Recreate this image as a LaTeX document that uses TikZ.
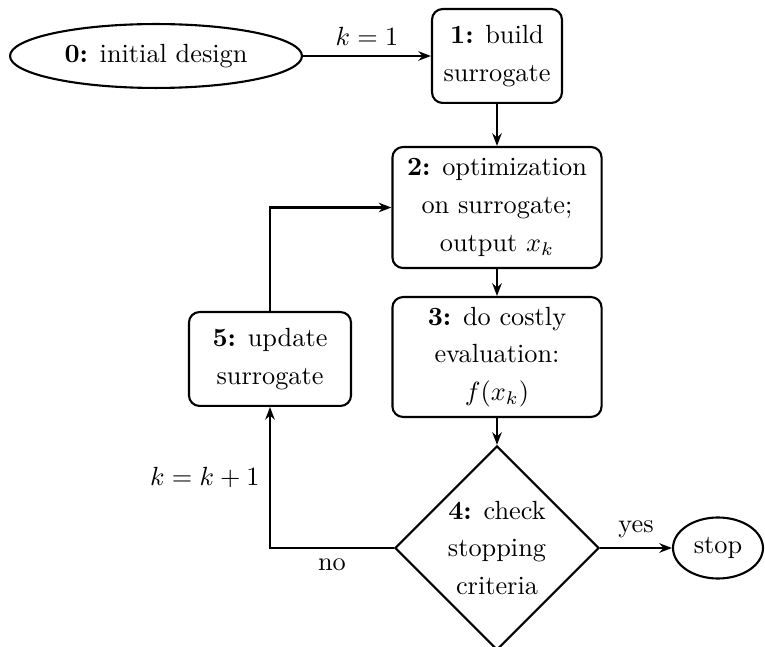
\documentclass[tikz,border=0pt]{standalone}
\usetikzlibrary{shapes.geometric,arrows.meta}
\begin{document}
\begin{tikzpicture}[x=0.3802pt,y=-0.3802pt,
  every node/.style={font=\fontsize{10}{14.3}\selectfont},
  stepbox/.style={draw,thick,rounded corners=4pt,align=center,inner sep=1pt},
  termin/.style={draw,thick,ellipse,inner sep=0pt},
  decide/.style={draw,thick,diamond,align=center,inner sep=0pt,minimum width=77.6pt,minimum height=77.6pt},
  flow/.style={thick,-{Stealth[length=4.8pt,width=3.6pt]}},
  lbl/.style={inner sep=3.6pt}]
\useasboundingbox (0,0) rectangle (765,647);
\node[termin,minimum width=111pt,minimum height=24.3pt] (n0) at (156,56) {\textbf{0:} initial design};
\node[stepbox,minimum width=49.4pt,minimum height=35.7pt] (n1) at (497,56) {\textbf{1:} build\\surrogate};
\node[stepbox,minimum width=79.5pt,minimum height=46pt] (n2) at (497,207.5) {\textbf{2:} optimization\\on surrogate;\\output $x_k$};
\node[stepbox,minimum width=79.5pt,minimum height=45.6pt] (n3) at (497,357) {\textbf{3:} do costly\\evaluation:\\$f(x_k)$};
\node[decide] (n4) at (497,548) {\textbf{4:} check\\stopping\\criteria};
\node[termin,minimum width=34.2pt,minimum height=23.2pt] (stop) at (718,548) {stop};
\node[stepbox,minimum width=61.6pt,minimum height=35.7pt] (n5) at (270,359) {\textbf{5:} update\\surrogate};
\draw[flow] (n0) -- node[lbl,above] {$k=1$} (n1);
\draw[flow] (n1) -- (n2);
\draw[flow] (n2) -- (n3);
\draw[flow] (n3) -- (n4);
\draw[flow] (n4) -- node[lbl,above] {yes} (stop);
\draw[flow] (n4.west) -| node[lbl,pos=0.25,below] {no} node[lbl,pos=0.75,left] {$k=k+1$} (n5.south);
\draw[flow] (n5.north) |- (n2.west);
\end{tikzpicture}
\end{document}
